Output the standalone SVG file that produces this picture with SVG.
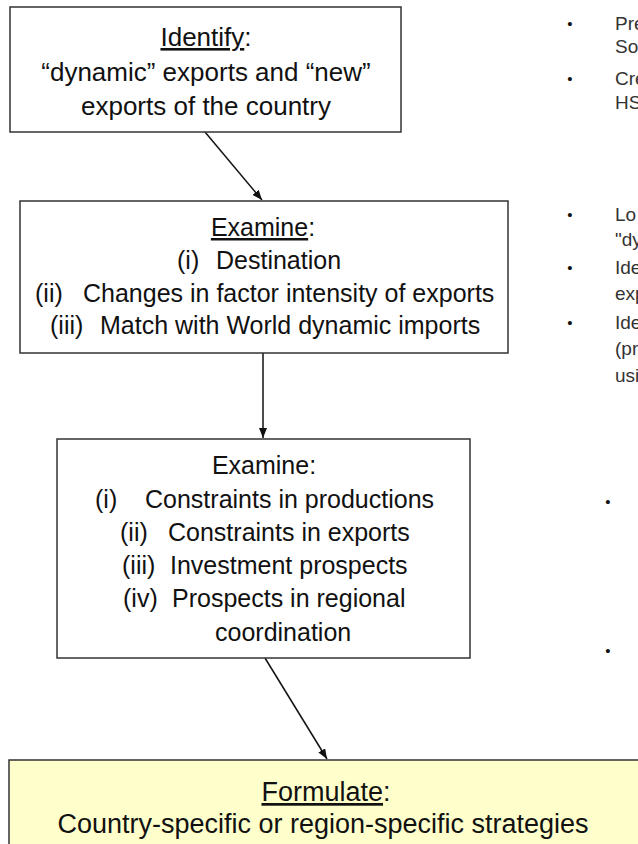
<svg xmlns="http://www.w3.org/2000/svg" width="638" height="844" viewBox="0 0 638 844">
  <defs>
    <marker id="arr" viewBox="0 0 10 8" refX="10" refY="4" markerWidth="10" markerHeight="8" markerUnits="userSpaceOnUse" orient="auto">
      <path d="M0,0 L10,4 L0,8 z" fill="#111"/>
    </marker>
    <style>
      .box { fill: #ffffff; stroke: #333333; stroke-width: 1.5; }
      .hl { fill: #ffffcc; stroke: #333333; stroke-width: 1.5; }
      .t { font-family: "Liberation Sans", Arial, sans-serif; font-size: 25px; fill: #111111; }
      .t26 { font-family: "Liberation Sans", Arial, sans-serif; font-size: 26px; fill: #111111; }
      .t27 { font-family: "Liberation Sans", Arial, sans-serif; font-size: 27px; fill: #111111; }
      .c { text-anchor: middle; }
      .u { text-decoration: underline; }
      .side { font-family: "Liberation Sans", Arial, sans-serif; font-size: 19px; fill: #333333; }
      .bul { font-family: "Liberation Sans", Arial, sans-serif; font-size: 15px; fill: #111111; text-anchor: middle; }
      .conn { stroke: #111111; stroke-width: 1.5; fill: none; marker-end: url(#arr); }
    </style>
  </defs>
  <rect width="638" height="844" fill="#ffffff"/>

  <g id="connectors">
    <line class="conn" x1="205" y1="132" x2="262" y2="200"/>
    <line class="conn" x1="263" y1="353" x2="263" y2="438"/>
    <line class="conn" x1="265" y1="658" x2="327" y2="759"/>
  </g>

  <g id="identify">
    <rect class="box" x="10" y="7" width="391" height="125"/>
    <text class="t26 c" x="206" y="46"><tspan class="u">Identify</tspan>:</text>
    <text class="t26 c" x="206" y="81">“dynamic” exports and “new”</text>
    <text class="t26 c" x="206" y="115">exports of the country</text>
  </g>

  <g id="examine1">
    <rect class="box" x="20" y="201" width="488" height="152"/>
    <text class="t c" x="263" y="236"><tspan class="u">Examine</tspan>:</text>
    <text class="t" x="177" y="269">(i)</text>
    <text class="t" x="216" y="269">Destination</text>
    <text class="t" x="35" y="302">(ii)</text>
    <text class="t" x="83" y="302">Changes in factor intensity of exports</text>
    <text class="t" x="50" y="334">(iii)</text>
    <text class="t" x="100" y="334">Match with World dynamic imports</text>
  </g>

  <g id="examine2">
    <rect class="box" x="57" y="439" width="413" height="219"/>
    <text class="t c" x="264" y="474">Examine:</text>
    <text class="t" x="95" y="508">(i)</text>
    <text class="t" x="145" y="508">Constraints in productions</text>
    <text class="t" x="120" y="541">(ii)</text>
    <text class="t" x="168" y="541">Constraints in exports</text>
    <text class="t" x="122" y="574">(iii)</text>
    <text class="t" x="170" y="574">Investment prospects</text>
    <text class="t" x="123" y="607">(iv)</text>
    <text class="t" x="172" y="607">Prospects in regional</text>
    <text class="t" x="215" y="641">coordination</text>
  </g>

  <g id="formulate">
    <rect class="hl" x="9" y="760" width="640" height="100"/>
    <text class="t27 c" x="326" y="801"><tspan class="u">Formulate</tspan>:</text>
    <text class="t27 c" x="323" y="833">Country-specific or region-specific strategies</text>
  </g>

  <g id="notes">
    <text class="bul" x="570" y="29">•</text>
    <text class="side" x="615" y="30">Pre</text>
    <text class="side" x="615" y="53">So</text>
    <text class="bul" x="570" y="84">•</text>
    <text class="side" x="615" y="85">Cre</text>
    <text class="side" x="615" y="109">HS</text>
    <text class="bul" x="570" y="220">•</text>
    <text class="side" x="615" y="221">Lo</text>
    <text class="side" x="615" y="246">"dy</text>
    <text class="bul" x="570" y="273">•</text>
    <text class="side" x="615" y="274">Ide</text>
    <text class="side" x="615" y="300">exp</text>
    <text class="bul" x="570" y="328">•</text>
    <text class="side" x="615" y="329">Ide</text>
    <text class="side" x="615" y="355">(pr</text>
    <text class="side" x="615" y="382">usi</text>
    <text class="bul" x="608" y="507">•</text>
    <text class="bul" x="608" y="656">•</text>
  </g>
</svg>
